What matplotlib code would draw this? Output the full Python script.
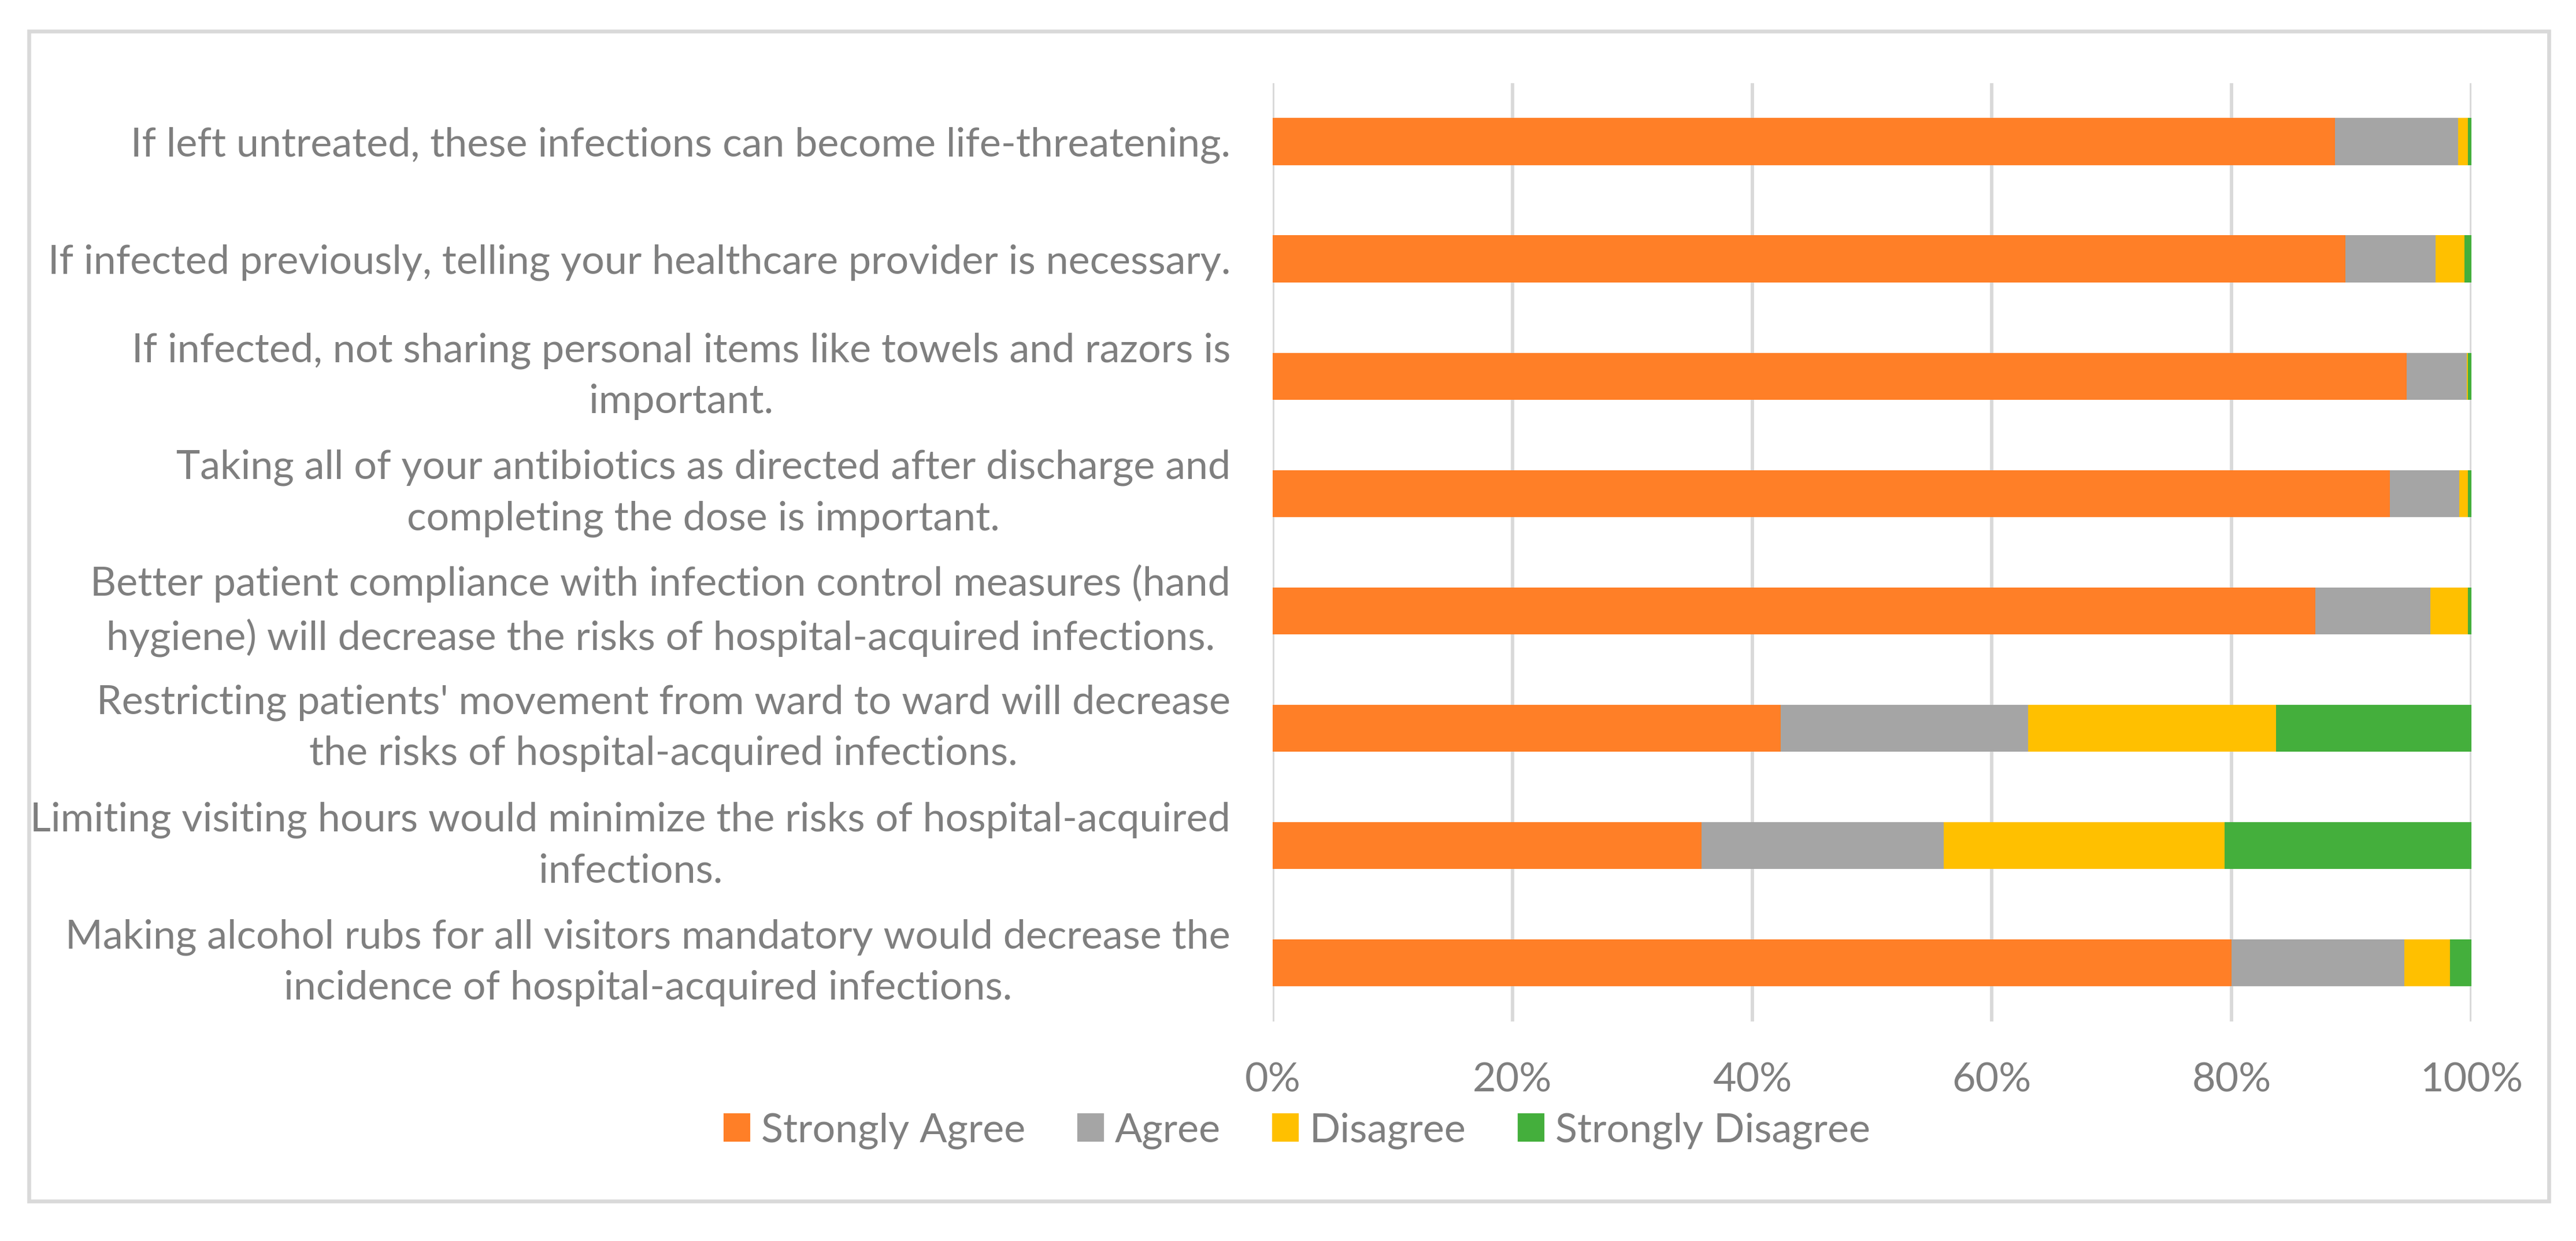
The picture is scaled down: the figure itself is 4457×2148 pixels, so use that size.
import matplotlib
matplotlib.use("Agg")
import matplotlib.pyplot as plt
import numpy as np
from matplotlib import font_manager as fm
from matplotlib.patches import Rectangle

categories = [
    "If left untreated, these infections can become life-threatening.",
    "If infected previously, telling your healthcare provider is necessary.",
    "If infected, not sharing personal items like towels and razors is\nimportant.",
    "Taking all of your antibiotics as directed after discharge and\ncompleting the dose is important.",
    "Better patient compliance with infection control measures (hand\nhygiene) will decrease the risks of hospital-acquired infections.",
    "Restricting patients' movement from ward to ward will decrease\nthe risks of hospital-acquired infections.",
    "Limiting visiting hours would minimize the risks of hospital-acquired\ninfections.",
    "Making alcohol rubs for all visitors mandatory would decrease the\nincidence of hospital-acquired infections.",
]
strongly_agree = [88.6, 89.5, 94.6, 93.2, 87.0, 42.4, 35.8, 80.0]
agree = [10.3, 7.5, 5.0, 5.8, 9.6, 20.6, 20.2, 14.4]
disagree = [0.8, 2.4, 0.1, 0.7, 3.1, 20.7, 23.4, 3.8]
strongly_disagree = [0.3, 0.6, 0.3, 0.3, 0.3, 16.3, 20.6, 1.8]
series_names = ["Strongly Agree", "Agree", "Disagree", "Strongly Disagree"]
colors = ["#FF7F27", "#A5A5A5", "#FFC000", "#44AF3C"]
xticks = [0, 20, 40, 60, 80, 100]
xticklabels = ["0%", "20%", "40%", "60%", "80%", "100%"]


def pick(names):
    for n in names:
        try:
            fm.findfont(fm.FontProperties(family=n), fallback_to_default=False)
            return n
        except Exception:
            pass
    return "DejaVu Sans"


font = pick(["Lato", "Open Sans"])
plt.rcParams["font.family"] = [font, "DejaVu Sans"]
txt_color = "#7F7F7F"
fs = 16.8

W, H = 4457, 2148
dpi = 300
fig = plt.figure(figsize=(W / dpi, H / dpi), dpi=dpi)
fig.patch.set_facecolor("white")

ax_l, ax_r, ax_t, ax_b = 2202, 4276, 143.5, 1768
ax = fig.add_axes([ax_l / W, 1 - ax_b / H, (ax_r - ax_l) / W, (ax_b - ax_t) / H])

data = [strongly_agree, agree, disagree, strongly_disagree]
y = np.arange(len(categories))
left = np.zeros(len(categories))
for name, vals, c in zip(series_names, data, colors):
    vals = np.array(vals)
    ax.barh(y, vals, left=left, height=0.4, color=c, label=name, zorder=3)
    left += vals

ax.set_xlim(0, 100)
ax.set_ylim(len(categories) - 0.5, -0.5)
ax.set_xticks(xticks)
ax.set_xticklabels(xticklabels)
ax.set_yticks(y)
ax.set_yticklabels(categories, ha="right", multialignment="center", linespacing=1.5)
for lbl in ax.get_yticklabels():
    if "\n" in lbl.get_text():
        lbl.set_va("center")
ax.tick_params(axis="both", length=0, labelsize=fs, labelcolor=txt_color)
ax.tick_params(axis="x", pad=17)
ax.tick_params(axis="y", pad=17.5)
for s in ax.spines.values():
    s.set_visible(False)
ax.grid(axis="x", color="#D9D9D9", linewidth=1.4, zorder=0)
ax.set_axisbelow(True)

fig.legend(
    handles=[Rectangle((0, 0), 1, 1, color=c) for c in colors],
    labels=series_names,
    loc="center",
    bbox_to_anchor=(2245 / W, 1 - 1957 / H),
    ncol=4,
    frameon=False,
    fontsize=fs,
    handlelength=0.6,
    handleheight=0.6,
    handletextpad=0.3,
    columnspacing=1.3,
    labelcolor=txt_color,
)

border = Rectangle((50 / W, 1 - 2079 / H), (4410 - 50) / W, (2079 - 54) / H,
                   transform=fig.transFigure, fill=False, edgecolor="#D9D9D9",
                   linewidth=1.6, zorder=10)
fig.patches.append(border)

fig.savefig("out.png", dpi=dpi, facecolor="white")
